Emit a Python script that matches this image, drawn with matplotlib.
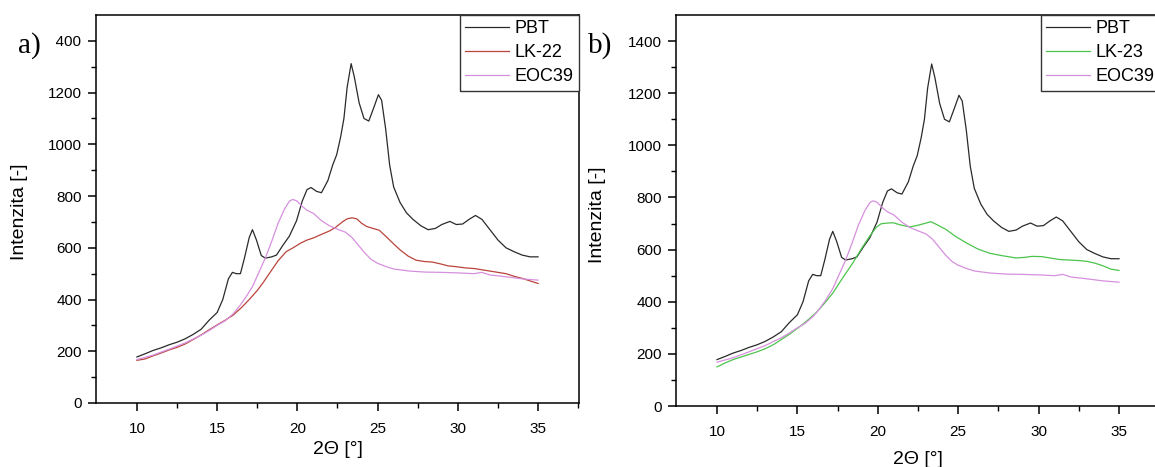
import matplotlib
matplotlib.use("Agg")
import matplotlib.pyplot as plt
from matplotlib.patches import Rectangle
import numpy as np

# ---------------- data ----------------
pbt_x = [10, 10.5, 11, 11.5, 12, 12.5, 13, 13.5, 14, 14.5, 15, 15.35, 15.7, 15.95, 16.2, 16.45,
         16.7, 17.0, 17.2, 17.45, 17.75, 18.0, 18.4, 18.7, 19.1, 19.5, 19.95, 20.3, 20.6, 20.85,
         21.2, 21.5, 21.9, 22.2, 22.45, 22.7, 22.9, 23.1, 23.35, 23.55, 23.85, 24.15, 24.45, 24.75,
         25.05, 25.25, 25.5, 25.75, 26.0, 26.4, 26.8, 27.2, 27.7, 28.15, 28.6, 29.0, 29.5, 29.9,
         30.3, 30.7, 31.1, 31.5, 32.0, 32.5, 33.0, 33.5, 34.0, 34.5, 35.0]
pbt_y = [178, 190, 203, 213, 225, 235, 248, 265, 285, 320, 350, 400, 480, 505, 500, 500,
         560, 640, 670, 630, 570, 560, 565, 572, 610, 645, 705, 780, 825, 833,
         818, 813, 860, 920, 960, 1030, 1100, 1220, 1312, 1260, 1160, 1100, 1090, 1140,
         1192, 1170, 1060, 920, 835, 775, 735, 710, 685, 670, 675, 690, 702, 690,
         692, 710, 725, 710, 670, 630, 600, 585, 572, 565, 565]

eoc_x = [10, 11, 12, 13, 14, 14.5, 15, 15.5, 16, 16.4, 16.8, 17.2, 17.6, 18.0, 18.4, 18.8,
         19.2, 19.5, 19.7, 19.95, 20.3, 20.6, 21.0, 21.5, 22.0, 22.5, 23.0, 23.4, 23.8, 24.2,
         24.6, 25.0, 25.5, 26.0, 27.0, 28.0, 29.0, 30.0, 31.0, 31.5, 32.0, 33.0, 34.0, 35.0]
eoc_y = [168, 185, 208, 232, 262, 280, 300, 318, 345, 375, 410, 450, 505, 560, 625, 695,
         750, 780, 787, 782, 760, 745, 733, 705, 685, 672, 660, 640, 610, 580,
         555, 540, 528, 518, 510, 506, 505, 503, 500, 505, 495, 488, 480, 475]

lk22_x = [10, 10.5, 11, 11.5, 12, 12.5, 13, 13.5, 14, 14.5, 15, 15.5, 16, 16.5, 17, 17.5,
          17.85, 18.3, 18.8, 19.3, 19.73, 20.2, 20.6, 21.0, 21.5, 22.0, 22.4, 22.8, 23.1, 23.4,
          23.7, 24.0, 24.3, 24.7, 25.1, 25.5, 26.0, 26.4, 26.9, 27.4, 27.9, 28.4, 28.9, 29.4,
          29.9, 30.5, 31.0, 31.5, 32.0, 32.5, 33.0, 33.5, 34.0, 34.5, 35.0]
lk22_y = [165, 170, 182, 193, 205, 215, 228, 245, 263, 283, 302, 320, 340, 368, 400, 435,
          464, 505, 550, 585, 600, 618, 630, 638, 652, 665, 680, 700, 712, 716,
          712, 695, 683, 675, 668, 645, 615, 592, 568, 552, 547, 545, 538, 530,
          527, 522, 520, 515, 510, 505, 500, 490, 482, 472, 462]

lk23_x = [10, 10.5, 11, 11.5, 12, 12.5, 13, 13.5, 14, 14.5, 15, 15.5, 15.8, 16.2, 16.7, 17.2,
          17.8, 18.45, 19.0, 19.5, 19.9, 20.2, 20.6, 20.95, 21.4, 21.97, 22.4, 22.9, 23.3, 23.7,
          24.25, 24.8, 25.5, 26.2, 26.9, 27.6, 28.6, 29.1, 29.6, 30.2, 30.8, 31.3, 31.9, 32.5,
          33.0, 33.5, 34.0, 34.5, 35.0]
lk23_y = [150, 165, 178, 188, 198, 208, 220, 235, 255, 275, 298, 322, 338, 360, 395, 433,
          490, 549, 605, 652, 685, 699, 702, 703, 695, 687, 692, 700, 707, 695,
          677, 652, 626, 603, 587, 578, 568, 570, 574, 573, 567, 562, 560, 558,
          555, 548, 538, 525, 520]

panel_labels = ["a)", "b)"]
legend_labels_a = ["PBT", "LK-22", "EOC39"]
legend_labels_b = ["PBT", "LK-23", "EOC39"]
x_label = "2Θ [°]"
y_label = "Intenzita [-]"

c_pbt = "#2a2a2a"
c_lk22 = "#b9443c"
c_eoc = "#d690de"
c_lk23 = "#4cc44c"

plt.rcParams["font.family"] = ["Liberation Sans", "DejaVu Sans"]

W, H = 1155, 467
fig = plt.figure(figsize=(W / 100, H / 100), dpi=100)

def px_rect(l, r, t, b):
    return [l / W, (H - b) / H, (r - l) / W, (b - t) / H]

ax1 = fig.add_axes(px_rect(96, 579, 15, 403))
ax2 = fig.add_axes(px_rect(676, 1160, 15, 406))

def style(ax):
    ax.set_xlim(7.45, 37.55)
    ax.set_ylim(0, 1500)
    ax.set_xticks([10, 15, 20, 25, 30, 35])
    ax.set_xticks(np.arange(12.5, 37.6, 5), minor=True)
    ax.set_yticks(np.arange(0, 1401, 200))
    ax.set_yticks(np.arange(100, 1500, 200), minor=True)
    ax.tick_params(which="major", direction="out", length=6, width=1.1,
                   labelsize=11, top=False, right=False)
    ax.tick_params(which="minor", direction="out", length=3.5, width=1.0,
                   top=False, right=False)
    ax.tick_params(axis="x", which="major", pad=7.5)
    ax.tick_params(axis="y", which="major", pad=4)
    for s in ax.spines.values():
        s.set_linewidth(1.1)

for ax, lab_b, c_mid, ymid_x, ymid_y in [
        (ax1, legend_labels_a, c_lk22, lk22_x, lk22_y),
        (ax2, legend_labels_b, c_lk23, lk23_x, lk23_y)]:
    ax.plot(pbt_x, pbt_y, color=c_pbt, lw=0.9, label=lab_b[0])
    ax.plot(ymid_x, ymid_y, color=c_mid, lw=0.9, label=lab_b[1])
    ax.plot(eoc_x, eoc_y, color=c_eoc, lw=0.9, label=lab_b[2])
    style(ax)
    leg = ax.legend(loc="upper right", borderaxespad=0, fancybox=False,
                    framealpha=1, edgecolor="#333333", fontsize=13,
                    handlelength=2.45, handletextpad=0.3, labelspacing=0.38,
                    borderpad=0.3)
    leg.get_frame().set_linewidth(1.0)

# axis labels (pixel positions)
fig.text(20 / W, 1 - 212 / H, y_label, rotation=90, ha="center", va="center", fontsize=14)
fig.text(598 / W, 1 - 215 / H, y_label, rotation=90, ha="center", va="center", fontsize=14)
fig.text(338 / W, 1 - 449 / H, x_label, ha="center", va="center", fontsize=14)
fig.text(918 / W, 1 - 459 / H, x_label, ha="center", va="center", fontsize=14)

# the "a)" label is pasted over the first digit of the top tick label
fig.canvas.draw()
renderer = fig.canvas.get_renderer()
top_lbl = [t for t in ax1.get_yticklabels() if t.get_text()][-1]
bb = top_lbl.get_window_extent(renderer)
cover_r = bb.x0 + bb.width * 0.245
inv = fig.transFigure.inverted()
(fx0, fy0) = inv.transform((10, bb.y0 - 8))
(fx1, fy1) = inv.transform((cover_r, bb.y1 + 8))
fig.add_artist(Rectangle((fx0, fy0), fx1 - fx0, fy1 - fy0, transform=fig.transFigure,
                         facecolor="white", edgecolor="none", zorder=5))

fig.text(18 / W, 1 - 46 / H, panel_labels[0], ha="left", va="center", fontsize=21,
         family=["Liberation Serif", "DejaVu Serif"], zorder=6)
fig.text(588 / W, 1 - 46 / H, panel_labels[1], ha="left", va="center", fontsize=21,
         family=["Liberation Serif", "DejaVu Serif"], zorder=6)

fig.savefig("out.png", dpi=100)
